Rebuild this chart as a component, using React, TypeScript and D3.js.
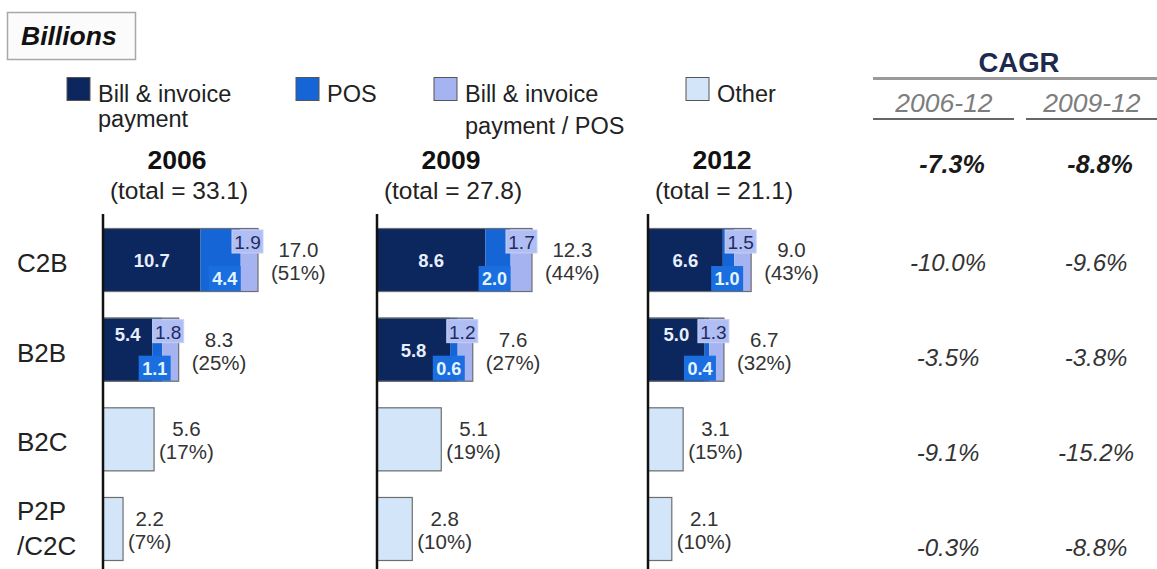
import React, { useEffect, useRef } from 'react'
import * as d3 from 'd3'

// Panels (years) and rows (segments)
const years = ['2006', '2009', '2012']
const yearTotals = [33.1, 27.8, 21.1]
const categories = ['C2B', 'B2B', 'B2C', 'P2P/C2C']
const categoryLines = [['C2B'], ['B2B'], ['B2C'], ['P2P', '/C2C']]

// Values per year, per category
const billInvoice = [[10.7, 5.4, 0, 0], [8.6, 5.8, 0, 0], [6.6, 5.0, 0, 0]]
const pos = [[4.4, 1.1, 0, 0], [2.0, 0.6, 0, 0], [1.0, 0.4, 0, 0]]
const billPos = [[1.9, 1.8, 0, 0], [1.7, 1.2, 0, 0], [1.5, 1.3, 0, 0]]
const other = [[0, 0, 5.6, 2.2], [0, 0, 5.1, 2.8], [0, 0, 3.1, 2.1]]
const rowTotals = [[17.0, 8.3, 5.6, 2.2], [12.3, 7.6, 5.1, 2.8], [9.0, 6.7, 3.1, 2.1]]
const rowShares = [[51, 25, 17, 7], [44, 27, 19, 10], [43, 32, 15, 10]]

// CAGR table
const cagrPeriods = ['2006-12', '2009-12']
const cagrTotal = [-7.3, -8.8]
const cagr0612 = [-10.0, -3.5, -9.1, -0.3]
const cagr0912 = [-9.6, -3.8, -15.2, -8.8]

const legendLabels = [['Bill & invoice', 'payment'], ['POS'], ['Bill & invoice', 'payment / POS'], ['Other']]

const keys = ['bill', 'pos', 'billPos', 'other']
const colors: Record<string, string> = {
  bill: '#0b275e',
  pos: '#1565d6',
  billPos: '#a5b3f1',
  other: '#d2e5f9'
}

const FONT = '"Liberation Sans", Arial, Helvetica, sans-serif'
const W = 1157
const H = 569

const pct = (v: number) => `${v.toFixed(1)}%`

export default function App() {
  const svgRef = useRef<SVGSVGElement>(null)

  useEffect(() => {
    if (!svgRef.current) return
    const svg = d3.select(svgRef.current)
    svg.selectAll('*').remove()
    svg.attr('width', W).attr('height', H).style('font-family', FONT)

    // Billions box
    svg.append('rect')
      .attr('x', 7.5).attr('y', 12.5).attr('width', 128).attr('height', 47)
      .attr('fill', '#fbfbfb').attr('stroke', '#a8a8a8').attr('stroke-width', 1.5)
    svg.append('text')
      .attr('x', 21).attr('y', 45)
      .attr('font-size', 26.5).attr('font-weight', 'bold').attr('font-style', 'italic')
      .attr('fill', '#111')
      .text('Billions')

    // Legend
    const legendX = [67, 296, 434, 686]
    const legendSecondLine = [127, 0, 134, 0]
    keys.forEach((k, i) => {
      svg.append('rect')
        .attr('x', legendX[i]).attr('y', 77.5).attr('width', 23).attr('height', 23)
        .attr('fill', colors[k]).attr('stroke', '#555').attr('stroke-width', 1)
      legendLabels[i].forEach((line, j) => {
        svg.append('text')
          .attr('x', legendX[i] + 31)
          .attr('y', j === 0 ? 102 : legendSecondLine[i])
          .attr('font-size', 23.5).attr('fill', '#222')
          .text(line)
      })
    })

    // Rows
    const rowY = d3.scaleBand<string>()
      .domain(categories)
      .range([228, 561])
      .paddingInner(0.286)

    categoryLines.forEach((lines, i) => {
      const cy = rowY(categories[i])! + rowY.bandwidth() / 2
      lines.forEach((line, j) => {
        svg.append('text')
          .attr('x', 17)
          .attr('y', lines.length === 1 ? cy + 12 : cy - 9 + j * 35)
          .attr('font-size', 26).attr('fill', '#222')
          .text(line)
      })
    })

    // Panels
    const panelLeft = [103, 377, 648]
    const panelWidth = [155, 155, 102]

    years.forEach((yr, p) => {
      const g = svg.append('g')
      const x = d3.scaleLinear()
        .domain([0, d3.max(rowTotals[p])!])
        .range([panelLeft[p], panelLeft[p] + panelWidth[p]])

      g.append('text')
        .attr('x', panelLeft[p] + 74).attr('y', 169)
        .attr('text-anchor', 'middle')
        .attr('font-size', 26.5).attr('font-weight', 'bold').attr('fill', '#111')
        .text(yr)
      g.append('text')
        .attr('x', panelLeft[p] + 76).attr('y', 199)
        .attr('text-anchor', 'middle')
        .attr('font-size', 24.5).attr('fill', '#222')
        .text(`(total = ${yearTotals[p].toFixed(1)})`)

      const rows = categories.map((c, i) => ({
        cat: c,
        bill: billInvoice[p][i],
        pos: pos[p][i],
        billPos: billPos[p][i],
        other: other[p][i]
      }))
      const series = d3.stack<any>().keys(keys)(rows)

      series.forEach(s => {
        g.selectAll(null)
          .data(s.filter(d => d[1] - d[0] > 0))
          .enter()
          .append('rect')
          .attr('x', d => x(d[0]))
          .attr('y', d => rowY(d.data.cat)!)
          .attr('width', d => x(d[1]) - x(d[0]))
          .attr('height', rowY.bandwidth())
          .attr('fill', colors[s.key])
      })

      rows.forEach((r, i) => {
        const top = rowY(r.cat)!
        const bh = rowY.bandwidth()
        const sum = r.bill + r.pos + r.billPos + r.other
        const end = x(sum)
        const stacked = r.bill > 0

        // outline
        g.append('rect')
          .attr('x', x(0)).attr('y', top + 0.5)
          .attr('width', end - x(0)).attr('height', bh - 1)
          .attr('fill', 'none').attr('stroke', '#6e6e6e').attr('stroke-width', 1.2)

        if (stacked) {
          const darkEnd = x(r.bill)
          const blueEnd = x(r.bill + r.pos)
          const darkW = darkEnd - x(0)
          const narrow = darkW < 60

          // bill & invoice / POS label box
          const lbRight = end + 5
          g.append('rect')
            .attr('x', lbRight - 31).attr('y', top + 2)
            .attr('width', 31).attr('height', 23)
            .attr('fill', '#b1bef4').attr('stroke', '#c7d0f6').attr('stroke-width', 1)
          g.append('text')
            .attr('x', lbRight - 15.5).attr('y', top + 21)
            .attr('text-anchor', 'middle')
            .attr('font-size', 19).attr('fill', '#1d2c63')
            .text(r.billPos.toFixed(1))

          // POS label box
          const bRight = blueEnd - x(r.bill) >= 24 ? blueEnd : end - 8
          g.append('rect')
            .attr('x', bRight - 32).attr('y', top + bh - 26)
            .attr('width', 32).attr('height', 25)
            .attr('fill', '#1a6ee0')
          g.append('text')
            .attr('x', bRight - 16).attr('y', top + bh - 7)
            .attr('text-anchor', 'middle')
            .attr('font-size', 18).attr('font-weight', 'bold').attr('fill', '#e3f5ff')
            .text(r.pos.toFixed(1))

          // bill & invoice label
          g.append('text')
            .attr('x', (x(0) + darkEnd) / 2)
            .attr('y', narrow ? top + 23 : top + bh / 2 + 7)
            .attr('text-anchor', 'middle')
            .attr('font-size', 18.5).attr('font-weight', 'bold').attr('fill', '#e8eefb')
            .text(r.bill.toFixed(1))
        }

        // total + share labels
        const start = end + (stacked ? 13 : 5)
        const shareText = g.append('text')
          .attr('x', start).attr('y', top + bh / 2 + 20)
          .attr('font-size', 20.5).attr('fill', '#333')
          .text(`(${rowShares[p][i]}%)`)
        const w = (shareText.node() as SVGTextElement).getComputedTextLength()
        g.append('text')
          .attr('x', start + w / 2).attr('y', top + bh / 2 - 3)
          .attr('text-anchor', 'middle')
          .attr('font-size', 20.5).attr('fill', '#333')
          .text(rowTotals[p][i].toFixed(1))
      })

      // axis line
      g.append('line')
        .attr('x1', x(0)).attr('x2', x(0))
        .attr('y1', 214).attr('y2', H)
        .attr('stroke', '#111').attr('stroke-width', 2.5)
    })

    // CAGR block
    const colX = [948, 1096]
    svg.append('text')
      .attr('x', 1019).attr('y', 72)
      .attr('text-anchor', 'middle')
      .attr('font-size', 27.5).attr('font-weight', 'bold').attr('fill', '#1e2a4d')
      .text('CAGR')
    svg.append('line')
      .attr('x1', 873).attr('x2', W).attr('y1', 78.5).attr('y2', 78.5)
      .attr('stroke', '#9a9a9a').attr('stroke-width', 3)

    const underline = [[873, 1014], [1026, W]]
    cagrPeriods.forEach((per, c) => {
      svg.append('text')
        .attr('x', colX[c] - 4).attr('y', 112)
        .attr('text-anchor', 'middle')
        .attr('font-size', 26.5).attr('font-style', 'italic').attr('fill', '#7d7d7d')
        .text(per)
      svg.append('line')
        .attr('x1', underline[c][0]).attr('x2', underline[c][1])
        .attr('y1', 119).attr('y2', 119)
        .attr('stroke', '#333').attr('stroke-width', 1.5)
      svg.append('text')
        .attr('x', colX[c] + 4).attr('y', 173)
        .attr('text-anchor', 'middle')
        .attr('font-size', 25).attr('font-style', 'italic').attr('font-weight', 'bold').attr('fill', '#1a1a1a')
        .text(pct(cagrTotal[c]))
    })

    const cagrY = d3.scalePoint<string>().domain(categories).range([271, 556])
    const cagrCols = [cagr0612, cagr0912]
    cagrCols.forEach((vals, c) => {
      svg.selectAll(null)
        .data(vals)
        .enter()
        .append('text')
        .attr('x', colX[c])
        .attr('y', (_, i) => cagrY(categories[i])!)
        .attr('text-anchor', 'middle')
        .attr('font-size', 24).attr('font-style', 'italic').attr('fill', '#333')
        .text(d => pct(d))
    })
  }, [])

  return (
    <svg ref={svgRef} style={{ position: 'absolute', left: 0, top: 0, background: '#fff' }} />
  )
}
